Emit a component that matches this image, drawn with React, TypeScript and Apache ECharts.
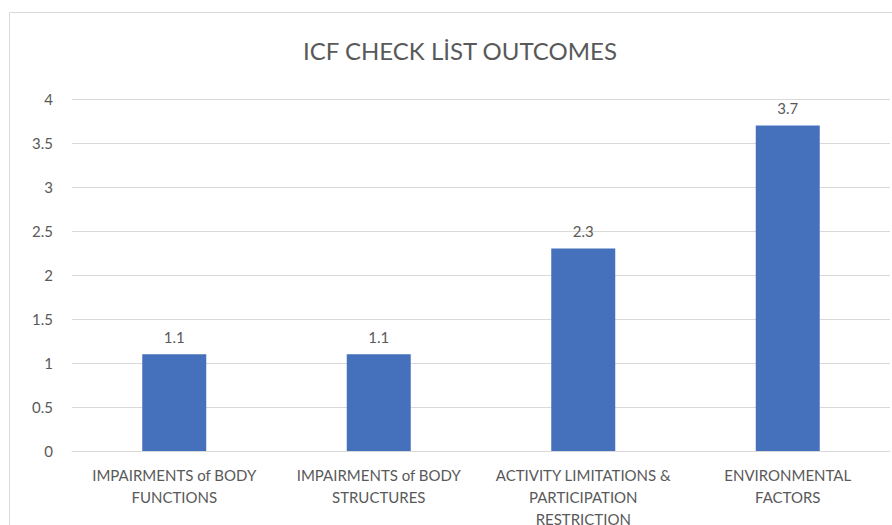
import React, { useEffect, useRef } from "react";
import * as echarts from "echarts";

const titleText = "ICF CHECK LİST OUTCOMES";
const categories = [
  "IMPAIRMENTS of BODY\nFUNCTIONS",
  "IMPAIRMENTS of BODY\nSTRUCTURES",
  "ACTIVITY LIMITATIONS &\nPARTICIPATION\nRESTRICTION",
  "ENVIRONMENTAL\nFACTORS",
];
const values = [1.1, 1.1, 2.3, 3.7];
const yMin = 0;
const yMax = 4;
const yInterval = 0.5;

export default function App() {
  const ref = useRef<HTMLDivElement>(null);
  useEffect(() => {
    if (!ref.current) return;
    const chart = echarts.init(ref.current, undefined, { renderer: "svg" });
    const font = "Lato, 'Open Sans', sans-serif";
    chart.setOption({
      animation: false,
      backgroundColor: "#ffffff",
      textStyle: { fontFamily: font },
      title: {
        text: titleText,
        left: 455,
        top: 33,
        textAlign: "center",
        textStyle: { fontFamily: font, fontSize: 24, fontWeight: "normal", color: "#595959" },
      },
      graphic: [
        {
          type: "rect",
          shape: { x: 9.5, y: 12.5, width: 900, height: 600 },
          style: { fill: "none", stroke: "#D9D9D9", lineWidth: 1 },
          silent: true,
        },
      ],
      grid: {
        left: 72,
        right: 2,
        top: 99,
        bottom: 74,
        containLabel: false,
        outerBoundsMode: "none",
      },
      xAxis: {
        type: "category",
        data: categories,
        axisLine: { show: true, lineStyle: { color: "#D9D9D9", width: 1 } },
        axisTick: { show: false },
        axisLabel: {
          interval: 0,
          color: "#595959",
          fontFamily: font,
          fontSize: 15,
          lineHeight: 22,
          margin: 13,
        },
      },
      yAxis: {
        type: "value",
        min: yMin,
        max: yMax,
        interval: yInterval,
        axisLine: { show: false },
        axisTick: { show: false },
        splitLine: { lineStyle: { color: "#D9D9D9", width: 1 } },
        axisLabel: { color: "#595959", fontFamily: font, fontSize: 15, margin: 19 },
      },
      series: [
        {
          type: "bar",
          data: values,
          barWidth: 64,
          itemStyle: { color: "#4571BC" },
          label: {
            show: true,
            position: "top",
            distance: 10,
            color: "#595959",
            fontFamily: font,
            fontSize: 15,
          },
        },
      ],
    });
    return () => chart.dispose();
  }, []);
  return (
    <div
      ref={ref}
      style={{ position: "fixed", left: 0, top: 0, width: 892, height: 525 }}
    />
  );
}
